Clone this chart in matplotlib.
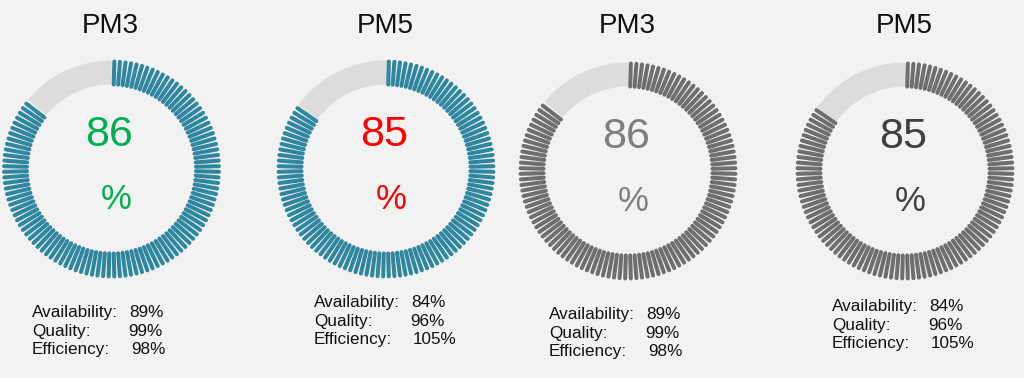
import matplotlib
matplotlib.use("Agg")
import matplotlib.pyplot as plt
import numpy as np

plt.rcParams['font.family'] = ['Liberation Sans', 'DejaVu Sans']

# data
titles = ["PM3", "PM5", "PM3", "PM5"]
oee = [86, 85, 86, 85]
availability = [89, 84, 89, 84]
quality = [99, 96, 99, 96]
efficiency = [98, 105, 98, 105]
row_labels = ["Availability:", "Quality:", "Efficiency:"]

# style / layout (pixels)
W, H = 1024, 378
BG = '#f2f2f2'
N_TICKS = 120
R_MAX, R_IN, R_OUT = 110, 84.5, 107.5
centers = [(111.5, 169), (386, 169), (628, 171), (905, 171)]
text_origin = [(32, 317), (314, 307), (549, 319), (832, 311)]
value_offset = [97, 96, 99]
number_colors = ['#00b050', '#ff0000', '#7f7f7f', '#404040']
tick_colors = ['#2f869e', '#2f869e', '#6e6e6e', '#6e6e6e']
rest_color = '#dcdcdc'

fig = plt.figure(figsize=(W / 100, H / 100), dpi=100, facecolor=BG)

# overlay axes in pixel coordinates for text
tx = fig.add_axes([0, 0, 1, 1])
tx.set_xlim(0, W)
tx.set_ylim(H, 0)
tx.set_axis_off()

for k in range(4):
    cx, cy = centers[k]
    ax = fig.add_axes([(cx - R_MAX) / W, 1 - (cy + R_MAX) / H,
                       2 * R_MAX / W, 2 * R_MAX / H], projection='polar')
    ax.set_theta_zero_location('N')
    ax.set_theta_direction(-1)
    ax.set_rlim(0, R_MAX)
    ax.set_axis_off()
    ax.set_facecolor('none')

    frac = oee[k] / 100.0
    n = int(round(frac * N_TICKS))
    theta = (np.arange(n) + 0.5) * 2 * np.pi / N_TICKS
    lc = ax.vlines(theta, R_IN, R_OUT, colors=tick_colors[k], linewidth=2.9)
    lc.set_capstyle('round')

    gap = 2 * np.pi * (1 - frac)
    ax.bar(2 * np.pi * frac + gap / 2, R_OUT - R_IN + 1, width=gap,
           bottom=R_IN, color=rest_color, edgecolor='none', zorder=0)

    # titles and center numbers
    tx.text(cx - 1, 33, titles[k], ha='center', va='baseline',
            fontsize=20, color='#111111')
    tx.text(cx - 2, cy - 23, str(oee[k]), ha='center', va='baseline',
            fontsize=31, color=number_colors[k])
    tx.text(cx + 5, cy + 40, "%", ha='center', va='baseline',
            fontsize=25, color=number_colors[k])

    # metrics block
    x0, y0 = text_origin[k]
    vals = [availability[k], quality[k], efficiency[k]]
    for i in range(3):
        y = y0 + i * 18.7
        tx.text(x0, y, row_labels[i], ha='left', va='baseline',
                fontsize=12.3, color='#111111')
        tx.text(x0 + value_offset[i], y, f"{vals[i]}%", ha='left',
                va='baseline', fontsize=12.3, color='#111111')

fig.savefig("out.png", dpi=100, facecolor=BG)
